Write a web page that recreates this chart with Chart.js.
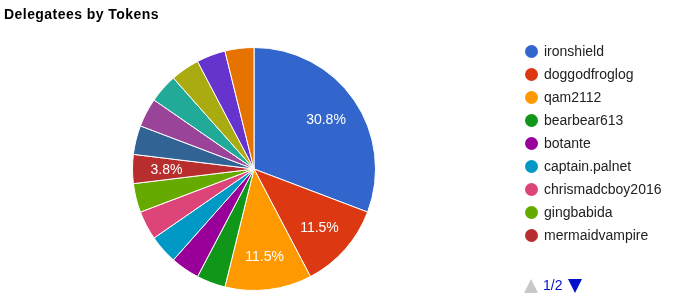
<!DOCTYPE html>
<html>
<head>
<meta charset="utf-8">
<script src="https://cdn.jsdelivr.net/npm/chart.js@4"></script>
<style>
  body { margin: 0; background: #fff; font-family: Arial, "Liberation Sans", sans-serif; }
  #wrap { position: relative; width: 676px; height: 300px; }
  #title { position: absolute; left: 4px; top: 6px; font-size: 14px; font-weight: bold; color: #000; letter-spacing: 0.45px; }
  #legend { position: absolute; left: 525px; top: 43px; font-size: 14px; color: #222; }
  .item { height: 23px; line-height: 16px; white-space: nowrap; }
  .dot { display: inline-block; width: 13px; height: 13px; border-radius: 50%; vertical-align: top; margin-top: 2px; margin-right: 6px; }
  #pager { position: absolute; left: 524px; top: 276px; font-size: 14px; color: #0011cc; line-height: 18px; }
  #pager .tri { display: inline-block; width: 0; height: 0; border-left: 7px solid transparent; border-right: 7px solid transparent; vertical-align: middle; }
  #pager .up { border-bottom: 14px solid #c8c8c8; margin-right: 5px; }
  #pager .down { border-top: 14px solid #0011cc; margin-left: 6px; }
</style>
</head>
<body>
<div id="wrap">
  <canvas id="myChart" width="676" height="300"></canvas>
  <div id="title">Delegatees by Tokens</div>
  <div id="legend"></div>
  <div id="pager"><span class="tri up"></span>1/2<span class="tri down"></span></div>
</div>
<script>
// legend page 1 names are readable; page 2 names are not visible in the reference
const names = [
  'ironshield', 'doggodfroglog', 'qam2112', 'bearbear613', 'botante',
  'captain.palnet', 'chrismadcboy2016', 'gingbabida', 'mermaidvampire',
  'delegatee 10', 'delegatee 11', 'delegatee 12', 'delegatee 13', 'delegatee 14', 'delegatee 15'
];
const tokens = [8, 3, 3, 1, 1, 1, 1, 1, 1, 1, 1, 1, 1, 1, 1];
const colors = [
  '#3366cc', '#dc3912', '#ff9900', '#109618', '#990099',
  '#0099c6', '#dd4477', '#66aa00', '#b82e2e', '#316395',
  '#994499', '#22aa99', '#aaaa11', '#6633cc', '#e67300'
];
const labelled = [0, 1, 2, 8];   // slices that show a percentage
const legendPage = 9;

// html legend, first page only
const legend = document.getElementById('legend');
names.slice(0, legendPage).forEach(function(n, i){
  const d = document.createElement('div');
  d.className = 'item';
  d.innerHTML = '<span class="dot" style="background:' + colors[i] + '"></span>' + n;
  legend.appendChild(d);
});

const total = tokens.reduce(function(a, b){ return a + b; }, 0);

const pctLabels = {
  id: 'pctLabels',
  afterDatasetsDraw(chart){
    const ctx = chart.ctx;
    const meta = chart.getDatasetMeta(0);
    ctx.save();
    ctx.fillStyle = '#fff';
    ctx.font = '14px Arial, "Liberation Sans", sans-serif';
    ctx.textAlign = 'center';
    ctx.textBaseline = 'middle';
    labelled.forEach(function(i){
      const arc = meta.data[i];
      const mid = (arc.startAngle + arc.endAngle) / 2;
      const r = arc.outerRadius * 0.72;
      const x = arc.x + Math.cos(mid) * r;
      const y = arc.y + Math.sin(mid) * r;
      ctx.fillText((tokens[i] / total * 100).toFixed(1) + '%', x, y + 1);
    });
    ctx.restore();
  }
};

const data = {
  labels: names,
  datasets: [{
    data: tokens,
    backgroundColor: colors,
    borderColor: '#fff',
    borderWidth: 1
  }]
};

const config = {
  type: 'pie',
  data: data,
  options: {
    responsive: false,
    animation: false,
    layout: { padding: { left: 132, right: 300, top: 46, bottom: 8 } },
    plugins: {
      legend: { display: false },
      tooltip: { enabled: false }
    }
  },
  plugins: [pctLabels]
};

const myChart = new Chart(document.getElementById('myChart'), config);
</script>
</body>
</html>
